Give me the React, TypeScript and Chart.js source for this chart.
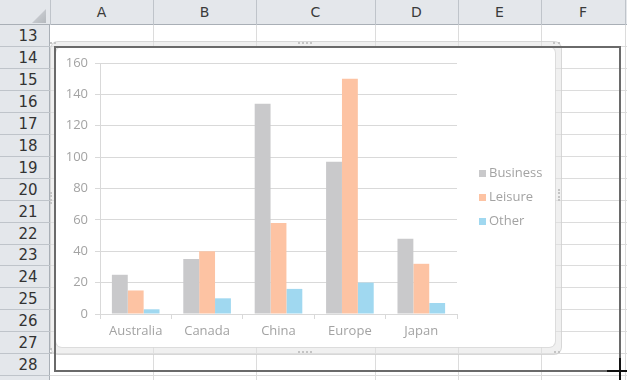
import React, { useEffect, useRef } from 'react';
import { Chart, registerables } from 'chart.js';

Chart.register(...registerables);

// ---- data ----
const categories = ['Australia', 'Canada', 'China', 'Europe', 'Japan'];
const seriesNames = ['Business', 'Leisure', 'Other'];
const business = [25, 35, 134, 97, 48];
const leisure = [15, 40, 58, 150, 32];
const other = [3, 10, 16, 20, 7];
const yMax = 160;
const yStep = 20;
const columnLetters = ['A', 'B', 'C', 'D', 'E', 'F'];
const rowNumbers = [13, 14, 15, 16, 17, 18, 19, 20, 21, 22, 23, 24, 25, 26, 27, 28];

// ---- layout / style ----
const colEdges = [50, 153, 256, 375, 458, 541, 625];
const HEADER_H = 25;
const ROW_H = 21.9;
const rowTop = (i: number) => Math.round(25.5 + i * ROW_H);
const seriesColors = ['#C9C9CB', '#FDC3A3', '#A0D8F0'];
const textGray = '#A3A3A3';
const gridGray = '#D9D9D9';
const FONT = '"Open Sans", "Liberation Sans", sans-serif';

const sideLegend = {
  id: 'sideLegend',
  afterDraw(chart: any) {
    const { ctx, chartArea } = chart;
    const items = chart.data.datasets;
    const x = chartArea.right + 22;
    const spacing = 24;
    const cy = chart.height / 2;
    ctx.save();
    ctx.font = '13px ' + FONT;
    ctx.textBaseline = 'middle';
    ctx.textAlign = 'left';
    items.forEach((ds: any, i: number) => {
      const y = cy + (i - (items.length - 1) / 2) * spacing;
      ctx.fillStyle = ds.backgroundColor;
      ctx.fillRect(x, Math.round(y - 3.5), 7, 7);
      ctx.fillStyle = textGray;
      ctx.fillText(ds.label, x + 10, y);
    });
    ctx.restore();
  },
};

function ChartBox() {
  const ref = useRef<HTMLCanvasElement | null>(null);
  useEffect(() => {
    if (!ref.current) return;
    const values = [business, leisure, other];
    const chart = new Chart(ref.current, {
      type: 'bar',
      data: {
        labels: categories,
        datasets: seriesNames.map((name, i) => ({
          label: name,
          data: values[i],
          backgroundColor: seriesColors[i],
          borderWidth: 0,
          categoryPercentage: 0.667,
          barPercentage: 1.0,
        })),
      },
      options: {
        responsive: false,
        animation: false,
        devicePixelRatio: 1,
        layout: { padding: { top: 16, left: 0, right: 98, bottom: 0 } },
        plugins: {
          legend: { display: false },
          tooltip: { enabled: false },
        },
        scales: {
          x: {
            grid: {
              display: true,
              drawOnChartArea: false,
              drawTicks: true,
              tickLength: 5,
              color: gridGray,
              offset: true,
            },
            border: { display: true, color: gridGray },
            ticks: { color: textGray, font: { family: FONT, size: 13 }, padding: 4 },
            afterFit: (s: any) => {
              s.height = 33;
            },
          },
          y: {
            min: 0,
            max: yMax,
            ticks: { stepSize: yStep, color: textGray, font: { family: FONT, size: 13 }, padding: 7 },
            grid: { color: gridGray, tickLength: 5, drawTicks: true },
            border: { display: true, color: gridGray },
            afterFit: (s: any) => {
              s.width = 44;
            },
          },
        },
      },
      plugins: [sideLegend],
    });
    return () => chart.destroy();
  }, []);
  return (
    <canvas
      ref={ref}
      width={499}
      height={300}
      style={{ position: 'absolute', left: 56, top: 47, width: 499, height: 300 }}
    />
  );
}

const abs = (o: React.CSSProperties): React.CSSProperties => ({ position: 'absolute', ...o });

export default function App() {
  const headerBg = '#E4E7EB';
  const headerSep = '#BFC4CA';
  const cellLine = '#DCDCDC';
  const hdrFont = '"DejaVu Sans", sans-serif';
  return (
    <div
      style={{
        position: 'fixed',
        left: 0,
        top: 0,
        width: 627,
        height: 380,
        overflow: 'hidden',
        background: '#fff',
        fontFamily: hdrFont,
      }}
    >
      {/* cell gridlines */}
      {Array.from({ length: 17 }).map((_, i) => (
        <div key={'h' + i} style={abs({ left: 50, top: rowTop(i + 1) - 1, width: 577, height: 1, background: cellLine })} />
      ))}
      {colEdges.slice(1).map((x, i) => (
        <div key={'v' + i} style={abs({ left: x, top: HEADER_H, width: 1, height: 380, background: cellLine })} />
      ))}

      {/* column header */}
      <div style={abs({ left: 0, top: 0, width: 627, height: HEADER_H, background: headerBg, borderBottom: '1px solid #A9AFB6', boxSizing: 'border-box' })} />
      {columnLetters.map((c, i) => (
        <div
          key={c}
          style={abs({
            left: colEdges[i],
            top: 0,
            width: colEdges[i + 1] - colEdges[i],
            height: HEADER_H,
            lineHeight: HEADER_H + 'px',
            textAlign: 'center',
            fontSize: 14,
            color: '#3a3a3a',
          })}
        >
          {c}
        </div>
      ))}
      {colEdges.map((x, i) => (
        <div key={'cs' + i} style={abs({ left: x, top: 0, width: 1, height: HEADER_H, background: headerSep })} />
      ))}

      {/* row header */}
      <div style={abs({ left: 0, top: HEADER_H, width: 50, height: 380, background: headerBg, borderRight: '1px solid #A9AFB6', boxSizing: 'border-box' })} />
      {rowNumbers.map((r, i) => (
        <div
          key={r}
          style={abs({
            left: 6,
            top: rowTop(i),
            width: 44,
            height: rowTop(i + 1) - rowTop(i),
            lineHeight: rowTop(i + 1) - rowTop(i) + 'px',
            textAlign: 'center',
            fontSize: 15,
            color: '#333',
          })}
        >
          {r}
        </div>
      ))}
      {Array.from({ length: 17 }).map((_, i) => (
        <div key={'rs' + i} style={abs({ left: 0, top: rowTop(i + 1) - 1, width: 50, height: 1, background: headerSep })} />
      ))}
      {/* corner triangle */}
      <div
        style={abs({
          left: 32,
          top: 9,
          width: 14,
          height: 14,
          background: 'linear-gradient(135deg, #D5D8DC, #B4B8BD)',
          clipPath: 'polygon(100% 0, 100% 100%, 0 100%)',
        })}
      />

      {/* chart frame */}
      <div
        style={abs({
          left: 50,
          top: 41,
          width: 512,
          height: 314,
          borderRadius: 8,
          background: 'rgba(225,225,225,0.5)',
          border: '1px solid rgba(205,205,205,0.7)',
          boxSizing: 'border-box',
        })}
      />
      <div
        style={abs({
          left: 56,
          top: 47,
          width: 499,
          height: 300,
          borderRadius: 6,
          background: '#fff',
          boxShadow: '0 0 0 1px rgba(215,215,215,0.8)',
        })}
      />
      <ChartBox />

      {/* handles */}
      <div style={abs({ left: 298, top: 42, width: 14, height: 0, borderTop: '2px dotted #C4C4C4' })} />
      <div style={abs({ left: 298, top: 351, width: 14, height: 0, borderTop: '2px dotted #C4C4C4' })} />
      <div style={abs({ left: 50, top: 192, width: 0, height: 12, borderLeft: '2px dotted #C4C4C4' })} />
      <div style={abs({ left: 558, top: 189, width: 0, height: 12, borderLeft: '2px dotted #C4C4C4' })} />
      <div style={abs({ left: 50, top: 42, width: 6, height: 0, borderTop: '2px dotted #C4C4C4' })} />
      <div style={abs({ left: 553, top: 42, width: 7, height: 0, borderTop: '2px dotted #C4C4C4' })} />
      <div style={abs({ left: 50, top: 348, width: 0, height: 6, borderLeft: '2px dotted #C4C4C4' })} />
      <div style={abs({ left: 554, top: 351, width: 6, height: 0, borderTop: '2px dotted #C4C4C4' })} />

      {/* drag outline */}
      <div
        style={abs({
          left: 54,
          top: 46,
          width: 567,
          height: 326,
          border: '2px solid #6A6A6A',
          boxSizing: 'border-box',
        })}
      />
      {/* cursor cross */}
      <div style={abs({ left: 607, top: 370, width: 20, height: 2, background: '#111' })} />
      <div style={abs({ left: 619, top: 358, width: 2, height: 22, background: '#111' })} />
    </div>
  );
}
